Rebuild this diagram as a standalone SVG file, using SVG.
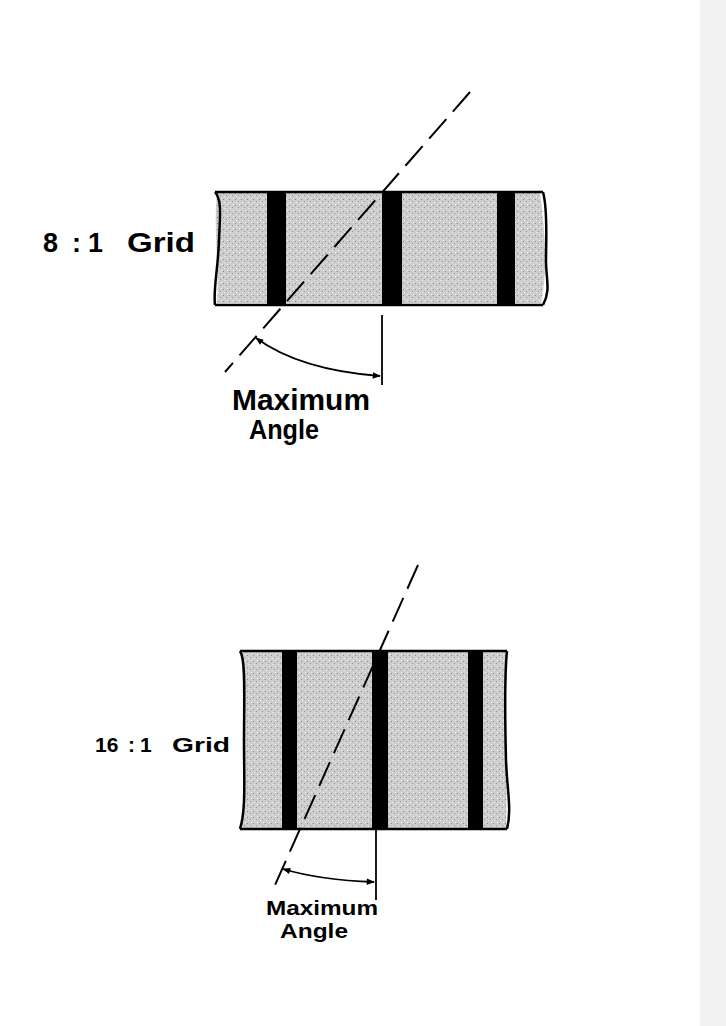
<svg xmlns="http://www.w3.org/2000/svg" width="726" height="1026" viewBox="0 0 726 1026">
<style>
.fill{fill:#cacaca;stroke:none}
.edge{fill:none;stroke:#000;stroke-width:2.5}
.bar{fill:#000}
.dash{fill:none;stroke:#000;stroke-width:2;stroke-dasharray:26 10}
.ln{fill:none;stroke:#000;stroke-width:1.8}
.t{font-family:"Liberation Sans",Arial,sans-serif;font-weight:bold;fill:#000}
</style>
<defs>
<marker id="ah" viewBox="0 0 10 10" refX="9" refY="5" markerWidth="9" markerHeight="8" orient="auto-start-reverse" markerUnits="userSpaceOnUse"><path d="M0,1 L10,5 L0,9 z" fill="#000"/></marker>
<pattern id="spk" width="6" height="6" patternUnits="userSpaceOnUse"><rect width="6" height="6" fill="#cdcdcd"/><rect x="1" y="1" width="1" height="1" fill="#888"/><rect x="4" y="3" width="1" height="1" fill="#999"/><rect x="2" y="4" width="1" height="1" fill="#eee"/><rect x="5" y="0" width="1" height="1" fill="#eee"/></pattern>
</defs>
<rect width="726" height="1026" fill="#fff"/>
<rect x="700" y="0" width="26" height="1026" fill="#f2f2f2"/>
<g id="grid8">
<path d="M217,193 L540,193 C545,230 548,270 541,303 L217,303 C220,270 213,230 217,193 z" fill="url(#spk)"/>
<rect class="bar" x="267" y="192" width="19" height="113"/>
<rect class="bar" x="382" y="192" width="20" height="113"/>
<rect class="bar" x="497" y="192" width="18" height="113"/>
<path class="edge" d="M215,192 L543,192"/>
<path class="edge" d="M215,305 L543,305"/>
<path class="edge" d="M215,192 C222,200 220,215 219,240 C218,270 213,290 215,305"/>
<path class="edge" d="M543,192 C548,210 546,240 546,260 C546,280 551,290 543,305"/>
</g>
<g id="grid16">
<path d="M242,652 L506,652 C503,700 508,780 506,828 L242,828 C246,780 242,700 242,652 z" fill="url(#spk)"/>
<rect class="bar" x="282" y="651" width="15" height="179"/>
<rect class="bar" x="372" y="651" width="16" height="179"/>
<rect class="bar" x="468" y="651" width="15" height="179"/>
<path class="edge" d="M240,651 L507,651"/>
<path class="edge" d="M240,829 L507,829"/>
<path class="edge" d="M240,651 C246,660 244,700 244,740 C244,780 246,810 240,829"/>
<path class="edge" d="M507,651 C504,680 505,720 506,760 C507,790 512,810 507,829"/>
</g>
<g id="connectors">
<path class="dash" d="M470,92 L225,372"/>
<path class="ln" d="M382,315 L382,385"/>
<path class="ln" d="M256,338 Q300,370 380,376" marker-start="url(#ah)" marker-end="url(#ah)"/>
<path class="dash" d="M418,565 L275,885"/>
<path class="ln" d="M376,829 L376,900"/>
<path class="ln" d="M283,869 Q320,880 374,882" marker-start="url(#ah)" marker-end="url(#ah)"/>
</g>
<g id="labels">
<text class="t" y="252" font-size="27"><tspan x="43">8</tspan><tspan x="72">:</tspan><tspan x="88">1</tspan><tspan x="127" textLength="68" lengthAdjust="spacingAndGlyphs">Grid</tspan></text>
<text class="t" x="232" y="410" font-size="29" textLength="138" lengthAdjust="spacingAndGlyphs">Maximum</text>
<text class="t" x="249" y="439" font-size="27" textLength="70" lengthAdjust="spacingAndGlyphs">Angle</text>
<text class="t" y="752" font-size="21"><tspan x="95">16</tspan><tspan x="128">:</tspan><tspan x="140">1</tspan><tspan x="172" textLength="58" lengthAdjust="spacingAndGlyphs">Grid</tspan></text>
<text class="t" x="266" y="915" font-size="21" textLength="112" lengthAdjust="spacingAndGlyphs">Maximum</text>
<text class="t" x="280" y="938" font-size="21" textLength="68" lengthAdjust="spacingAndGlyphs">Angle</text>
</g>
</svg>
